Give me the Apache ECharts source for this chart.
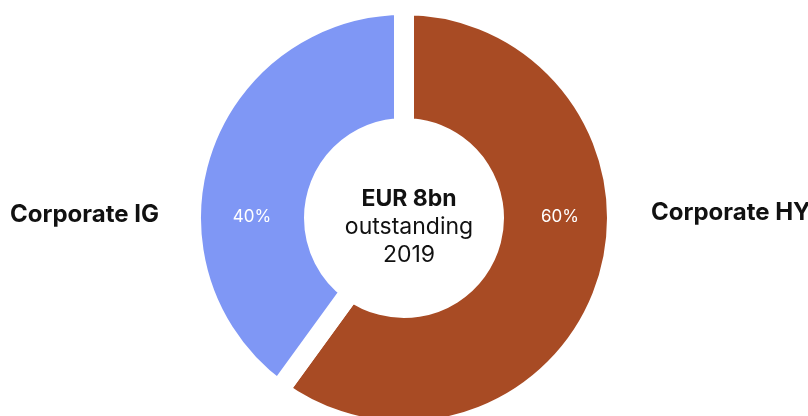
<!DOCTYPE html>
<html lang="en">
<head>
    <meta charset="UTF-8"/>
    <script src="https://cdn.jsdelivr.net/npm/echarts@6/dist/echarts.min.js"></script>
    <title>Corporate bonds outstanding</title>
</head>
<body style="margin:0">
<div id="main" style="width: 808px;height:416px;"></div>
<script type="text/javascript">
    // data
    var categories = ['Corporate HY', 'Corporate IG'];
    var shares = [60, 40];
    var colors = ['#a84b24', '#7f97f5'];
    var centerLines = ['EUR 8bn', 'outstanding', '2019'];

    var cx = 404, cy = 218;
    var myChart = echarts.init(document.getElementById('main'));

    var pieData = categories.map(function (name, i) {
        return {name: name, value: shares[i], itemStyle: {color: colors[i]}};
    });

    option = {
        animation: false,
        textStyle: {fontFamily: 'Inter'},
        title: {
            text: '{b|' + centerLines[0] + '}\n{n|' + centerLines[1] + '}\n{n|' + centerLines[2] + '}',
            left: cx,
            top: cy - 38,
            textAlign: 'center',
            textStyle: {
                fontWeight: 'normal',
                rich: {
                    b: {fontFamily: 'Inter', fontWeight: 'bold', fontSize: 23, lineHeight: 28, color: '#111'},
                    n: {fontFamily: 'Inter', fontWeight: 'normal', fontSize: 23, lineHeight: 28, color: '#111'}
                }
            }
        },
        series: [
            {
                name: 'share',
                type: 'pie',
                center: [cx, cy],
                radius: [90, 213],
                startAngle: 90,
                data: pieData,
                itemStyle: {borderColor: '#fff', borderWidth: 20},
                label: {
                    show: true,
                    position: 'inside',
                    formatter: '{c}%',
                    color: '#fff',
                    fontFamily: 'Inter',
                    fontSize: 17
                },
                labelLayout: function (p) {
                    return {x: p.dataIndex === 0 ? cx + 156 : cx - 152, y: cy - 1, align: 'center', verticalAlign: 'middle'};
                },
                labelLine: {show: false}
            },
            {
                name: 'names',
                type: 'pie',
                silent: true,
                center: [cx, cy],
                radius: [90, 213],
                data: pieData.map(function (d) {
                    return {name: d.name, value: d.value, itemStyle: {color: 'rgba(0,0,0,0)'}};
                }),
                label: {
                    show: true,
                    position: 'inside',
                    formatter: '{b}',
                    color: '#111',
                    fontFamily: 'Inter',
                    fontWeight: 'bold',
                    fontSize: 24
                },
                labelLayout: function (p) {
                    return p.dataIndex === 0
                        ? {x: 651, y: cy - 5, align: 'left', verticalAlign: 'middle'}
                        : {x: 10, y: cy - 3, align: 'left', verticalAlign: 'middle'};
                },
                labelLine: {show: false}
            }
        ]
    };

    myChart.setOption(option);
</script>
</body>
</html>
